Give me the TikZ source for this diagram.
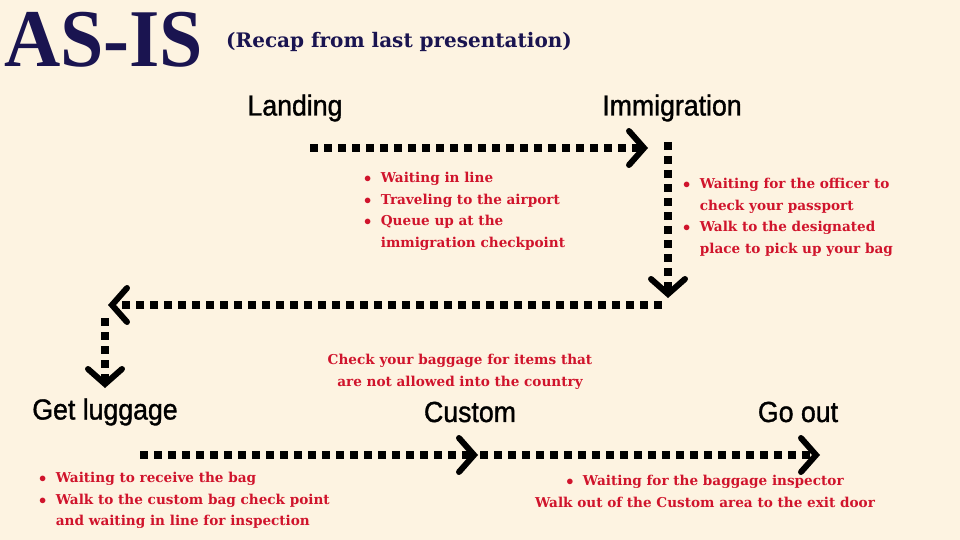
\documentclass[tikz,border=0pt]{standalone}
\usepackage{fontspec}
\setmainfont{Liberation Serif}
\newfontfamily\lab{Liberation Sans}[FakeStretch=0.92,FakeBold=1.2]
\newfontfamily\slab{DejaVu Serif}
\usetikzlibrary{arrows.meta}
\definecolor{bg}{HTML}{FDF3E1}
\definecolor{navy}{HTML}{1A1450}
\definecolor{redt}{HTML}{D0142C}
\tikzset{
  flow/.style={line width=8pt, dash pattern=on 8pt off 6pt, black,
    -{Straight Barb[length=15pt,width=34pt,line width=6pt,line cap=round]}},
  stage/.style={font=\lab\fontsize{29}{30}\selectfont, text=black, inner sep=0},
  note/.style={font=\slab\bfseries\fontsize{13.6}{21.5}\selectfont, text=redt, inner sep=0, align=left, anchor=north west},
}
\begin{document}
\begin{tikzpicture}[x=1pt,y=-1pt]
\fill[bg] (0,0) rectangle (960,540);
\useasboundingbox (0,0) rectangle (960,540);
\node[anchor=west,inner sep=0,text=navy,font=\bfseries\fontsize{82}{82}\selectfont,xscale=0.95] (title) at (4,40) {AS-IS};
\node[anchor=west,inner sep=0,text=navy,font=\slab\bfseries\fontsize{20}{24}\selectfont] (sub) at (226,42) {(Recap from last presentation)};

\node[stage] (land) at (295,108) {Landing};
\node[stage] (imm) at (672,108) {Immigration};
\node[stage] (get) at (105,412) {Get luggage};
\node[stage] (cus) at (470,412) {Custom};
\node[stage] (go) at (798,412) {Go out};

\coordinate (a1) at (310,148);
\coordinate (a2) at (648,148);
\coordinate (b1) at (668,142);
\coordinate (b2) at (668,298);
\coordinate (c1) at (662,305);
\coordinate (c2) at (108,305);
\coordinate (d1) at (105,318);
\coordinate (d2) at (105,388);
\coordinate (e1) at (140,455);
\coordinate (e2) at (478,455);
\coordinate (f1) at (480,455);
\coordinate (f2) at (820,455);

\draw[flow] (a1) -- (a2);
\draw[flow] (b1) -- (b2);
\draw[flow] (c1) -- (c2);
\draw[flow] (d1) -- (d2);
\draw[flow] (e1) -- (e2);
\draw[flow] (f1) -- (f2);

\node[note] (n1) at (364,172) {$\bullet$\ \ Waiting in line\\$\bullet$\ \ Traveling to the airport\\$\bullet$\ \ Queue up at the\\\phantom{$\bullet$\ \ }immigration checkpoint};
\node[note] (n2) at (683,178) {$\bullet$\ \ Waiting for the officer to\\\phantom{$\bullet$\ \ }check your passport\\$\bullet$\ \ Walk to the designated\\\phantom{$\bullet$\ \ }place to pick up your bag};
\node[note,anchor=north,align=center] (n3) at (460,354) {Check your baggage for items that\\are not allowed into the country};
\node[note] (n4) at (39,472) {$\bullet$\ \ Waiting to receive the bag\\$\bullet$\ \ Walk to the custom bag check point\\\phantom{$\bullet$\ \ }and waiting in line for inspection};
\node[note,anchor=north,align=center] (n5) at (705,475) {$\bullet$\ \ Waiting for the baggage inspector\\Walk out of the Custom area to the exit door};
\end{tikzpicture}
\end{document}
